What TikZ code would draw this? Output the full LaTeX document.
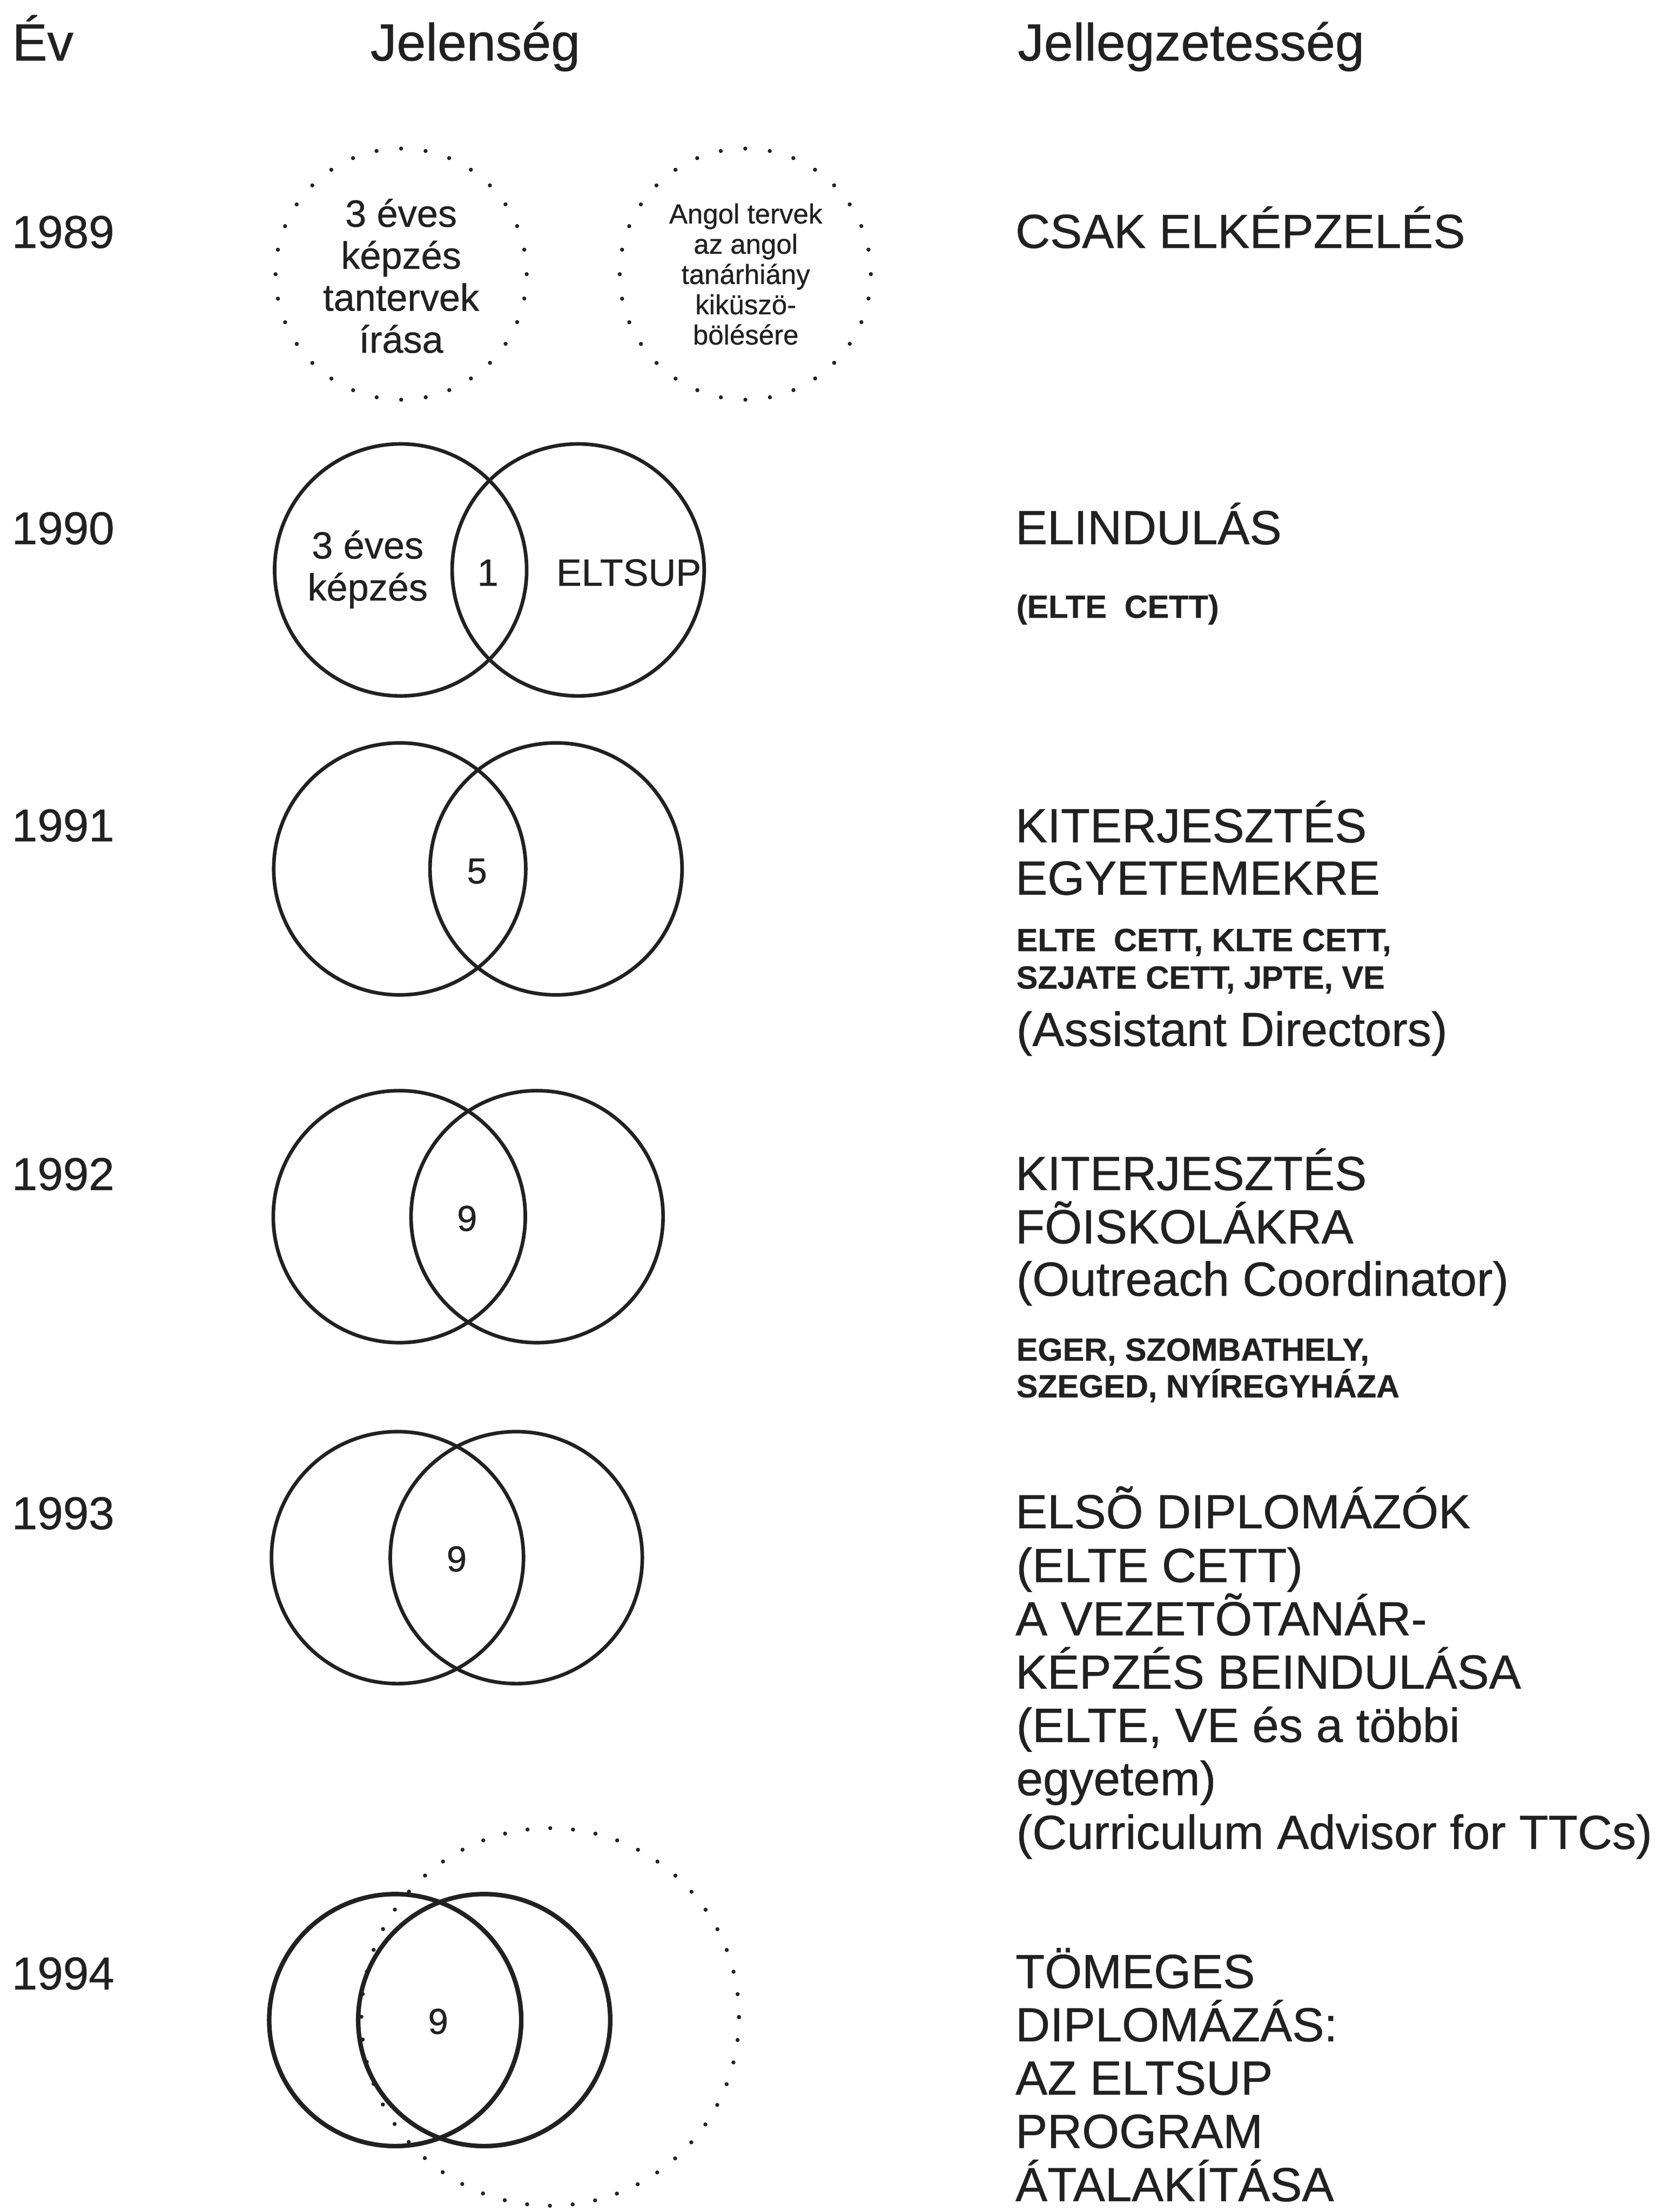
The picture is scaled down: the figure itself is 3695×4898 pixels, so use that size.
\documentclass[tikz,border=0pt]{standalone}
\usepackage{fontspec}
\setmainfont{Liberation Sans}[FakeBold=0.6]
\definecolor{ink}{gray}{0.13}
\begin{document}
\begin{tikzpicture}[x=1pt,y=-1pt,
  every node/.style={text=ink},
  venn/.style={circle, draw=ink, line width=8pt, minimum size=558pt, inner sep=0pt},
  dotc/.style={circle, draw=ink, line width=9pt, line cap=round, inner sep=0pt},
  bigtxt/.style={anchor=base west, inner sep=0pt, font=\fontsize{106}{118}\selectfont},
  smalltxt/.style={anchor=base west, inner sep=0pt, font=\bfseries\fontsize{71}{83}\selectfont},
  yeartxt/.style={anchor=base west, inner sep=0pt, font=\fontsize{102}{110}\selectfont},
  headtxt/.style={anchor=base west, inner sep=0pt, font=\fontsize{116}{120}\selectfont},
  lenstxt/.style={inner sep=0pt, font=\fontsize{80}{90}\selectfont},
  intxt/.style={inner sep=0pt, align=center, font=\fontsize{84}{93}\selectfont},
  tinytxt/.style={inner sep=0pt, align=center, font=\fontsize{61}{67}\selectfont}]
\fill[white] (0,0) rectangle (3695,4898);
\useasboundingbox (0,0) rectangle (3695,4898);

% headers
\node[headtxt] (hEv) at (27,134) {Év};
\node[headtxt] (hJel) at (820,134) {Jelenség};
\node[headtxt] (hJell) at (2253,134) {Jellegzetesség};

% years
\node[yeartxt] (y89) at (26,549) {1989};
\node[yeartxt] (y90) at (26,1205) {1990};
\node[yeartxt] (y91) at (26,1863) {1991};
\node[yeartxt] (y92) at (26,2635) {1992};
\node[yeartxt] (y93) at (26,3386) {1993};
\node[yeartxt] (y94) at (26,4405) {1994};

% 1989
\node[dotc, minimum size=556pt, dash pattern=on 0pt off 54.6pt] (d89a) at (888,607) {};
\node[dotc, minimum size=556pt, dash pattern=on 0pt off 54.6pt] (d89b) at (1650,607) {};
\node[intxt] (t89a) at (888,611) {3 éves\\képzés\\tantervek\\írása};
\node[tinytxt] (t89b) at (1651,607) {Angol tervek\\az angol\\tanárhiány\\kiküszö-\\bölésére};

% 1990
\node[venn] (v90a) at (887,1262) {};
\node[venn] (v90b) at (1280,1262) {};
\node[intxt] (t90a) at (814,1261) {3 éves\\képzés};
\node[intxt] (t90c) at (1080,1268) {1};
\node[intxt] (t90b) at (1392,1268) {ELTSUP};

% 1991
\node[venn] (v91a) at (885,1924) {};
\node[venn] (v91b) at (1231,1924) {};
\node[lenstxt] (t91) at (1056,1929) {5};

% 1992
\node[venn] (v92a) at (884,2694) {};
\node[venn] (v92b) at (1189,2694) {};
\node[lenstxt] (t92) at (1034,2698) {9};

% 1993
\node[venn] (v93a) at (880,3449) {};
\node[venn] (v93b) at (1143,3449) {};
\node[lenstxt] (t93) at (1011,3452) {9};

% 1994
\node[dotc, minimum size=836pt, dash pattern=on 0pt off 50.5pt] (d94) at (1218,4466) {};
\node[venn, line width=10pt] (v94a) at (875,4473) {};
\node[venn, line width=10pt] (v94b) at (1072,4473) {};
\node[lenstxt] (t94) at (970,4476) {9};

% right column
\node[bigtxt] (r89) at (2248,549) {CSAK ELKÉPZELÉS};

\node[bigtxt] (r90a) at (2248,1205) {ELINDULÁS};
\node[smalltxt] (r90b) at (2250,1368) {(ELTE~~CETT)};

\node[bigtxt] (r91a) at (2248,1865) {KITERJESZTÉS};
\node[bigtxt] (r91b) at (2248,1981) {EGYETEMEKRE};
\node[smalltxt] (r91c) at (2250,2106) {ELTE~~CETT, KLTE CETT,};
\node[smalltxt] (r91d) at (2250,2189) {SZJATE CETT, JPTE, VE};
\node[bigtxt] (r91e) at (2250,2316) {(Assistant Directors)};

\node[bigtxt] (r92a) at (2248,2635) {KITERJESZTÉS};
\node[bigtxt] (r92b) at (2248,2753) {FÕISKOLÁKRA};
\node[bigtxt] (r92c) at (2250,2869) {(Outreach Coordinator)};
\node[smalltxt] (r92d) at (2250,3013) {EGER, SZOMBATHELY,};
\node[smalltxt] (r92e) at (2250,3094) {SZEGED, NYÍREGYHÁZA};

\node[bigtxt] (r93a) at (2248,3384) {ELSÕ DIPLOMÁZÓK};
\node[bigtxt] (r93b) at (2250,3503) {(ELTE CETT)};
\node[bigtxt] (r93c) at (2248,3621) {A VEZETÕTANÁR-};
\node[bigtxt] (r93d) at (2248,3739) {KÉPZÉS BEINDULÁSA};
\node[bigtxt] (r93e) at (2250,3857) {(ELTE, VE és a többi};
\node[bigtxt] (r93f) at (2250,3975) {egyetem)};
\node[bigtxt] (r93g) at (2250,4094) {(Curriculum Advisor for TTCs)};

\node[bigtxt] (r94a) at (2248,4402) {TÖMEGES};
\node[bigtxt] (r94b) at (2248,4520) {DIPLOMÁZÁS:};
\node[bigtxt] (r94c) at (2248,4638) {AZ ELTSUP};
\node[bigtxt] (r94d) at (2248,4756) {PROGRAM};
\node[bigtxt] (r94e) at (2248,4874) {ÁTALAKÍTÁSA};
\end{tikzpicture}
\end{document}
